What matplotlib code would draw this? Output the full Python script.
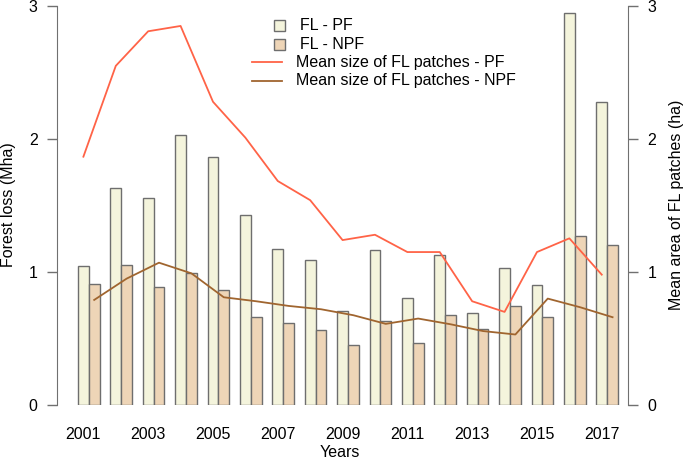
import matplotlib
matplotlib.use("Agg")
import matplotlib.pyplot as plt
from matplotlib.lines import Line2D
from matplotlib.patches import Rectangle
import numpy as np

plt.rcParams['font.family'] = ['Liberation Sans', 'DejaVu Sans']

years = list(range(2001, 2018))
fl_pf = [1.045, 1.63, 1.56, 2.03, 1.865, 1.43, 1.175, 1.09, 0.707, 1.165,
         0.805, 1.128, 0.69, 1.03, 0.905, 2.945, 2.276]
fl_npf = [0.907, 1.05, 0.887, 0.995, 0.865, 0.664, 0.617, 0.564, 0.453, 0.634,
          0.464, 0.674, 0.569, 0.744, 0.659, 1.27, 1.205]
mean_pf = [1.867, 2.55, 2.81, 2.85, 2.28, 2.01, 1.684, 1.54, 1.24, 1.28,
           1.15, 1.15, 0.78, 0.70, 1.15, 1.253, 0.98]
mean_npf = [0.79, 0.95, 1.07, 0.99, 0.81, 0.78, 0.745, 0.72, 0.675, 0.61,
            0.65, 0.607, 0.556, 0.53, 0.80, 0.735, 0.66]

c_pf = '#F4F4DC'
c_npf = '#EED5B7'
c_edge = '#6E6E6E'
c_red = '#FF6347'
c_brown = '#A0652F'
c_axis = '#707070'
fs = 11.5

W, H = 685, 461
fig = plt.figure(figsize=(W / 100, H / 100), dpi=100)
ax = fig.add_axes([57 / W, 56 / H, (628 - 57) / W, 399 / H])

idx = np.arange(len(years))
x_pf = 1.5 + 3 * idx
x_npf = 2.5 + 3 * idx

ax.bar(x_pf, fl_pf, width=1.0, color=c_pf, edgecolor=c_edge, linewidth=1.0)
ax.bar(x_npf, fl_npf, width=1.0, color=c_npf, edgecolor=c_edge, linewidth=1.0)

ax.set_xlim(-0.944, 51.93)
ax.set_ylim(0, 3)
for s in ['top', 'bottom']:
    ax.spines[s].set_visible(False)
ax.spines['right'].set_visible(False)
ax.spines['left'].set_bounds(0, 3)
ax.spines['left'].set_color(c_axis)
ax.set_yticks([0, 1, 2, 3])
ax.set_yticklabels(['0', '1', '2', '3'])
ax.tick_params(axis='y', length=7, width=1, color=c_axis, pad=7, labelsize=fs)
ax.set_xticks(x_pf[::2])
ax.set_xticklabels([str(y) for y in years[::2]])
ax.tick_params(axis='x', length=0, pad=16, labelsize=fs)

ax2 = ax.twinx()
ax2.plot(x_pf, mean_pf, color=c_red, linewidth=1.3)
ax2.plot(x_npf, mean_npf, color=c_brown, linewidth=1.3)
ax2.set_ylim(0, 3)
for s in ['top', 'bottom', 'left']:
    ax2.spines[s].set_visible(False)
ax2.spines['right'].set_bounds(0, 3)
ax2.spines['right'].set_color(c_axis)
ax2.set_yticks([0, 1, 2, 3])
ax2.set_yticklabels(['0', '1', '2', '3'])
ax2.tick_params(axis='y', length=7, width=1, color=c_axis, pad=7, labelsize=fs)

fig.text(9 / W, 1 - 205 / H, 'Forest loss (Mha)', rotation=90, ha='center', va='center', fontsize=fs)
fig.text(676 / W, 1 - 205 / H, 'Mean area of FL patches (ha)', rotation=90, ha='center', va='center', fontsize=fs)
fig.text(340 / W, 1 - 452 / H, 'Years', ha='center', va='center', fontsize=fs)

# legend (drawn in figure pixel coords)
def fx(px):
    return px / W

def fy(py):
    return 1 - py / H

rows = [25.7, 44.3, 62.0, 81.0]
for py, col, lab in [(rows[0], c_pf, 'FL - PF'), (rows[1], c_npf, 'FL - NPF')]:
    fig.patches.append(Rectangle((fx(273.5), fy(py + 5.5)), 11 / W, 11 / H,
                                 transform=fig.transFigure, facecolor=col,
                                 edgecolor=c_edge, linewidth=1.0))
    fig.text(fx(300), fy(py), lab, ha='left', va='center', fontsize=fs)
for py, col, lab in [(rows[2], c_red, 'Mean size of FL patches - PF'),
                     (rows[3], c_brown, 'Mean size of FL patches - NPF')]:
    fig.lines.append(Line2D([fx(252), fx(282)], [fy(py), fy(py)],
                            transform=fig.transFigure, color=col, linewidth=1.3))
    fig.text(fx(296), fy(py), lab, ha='left', va='center', fontsize=fs)

fig.savefig('out.png', dpi=100)
